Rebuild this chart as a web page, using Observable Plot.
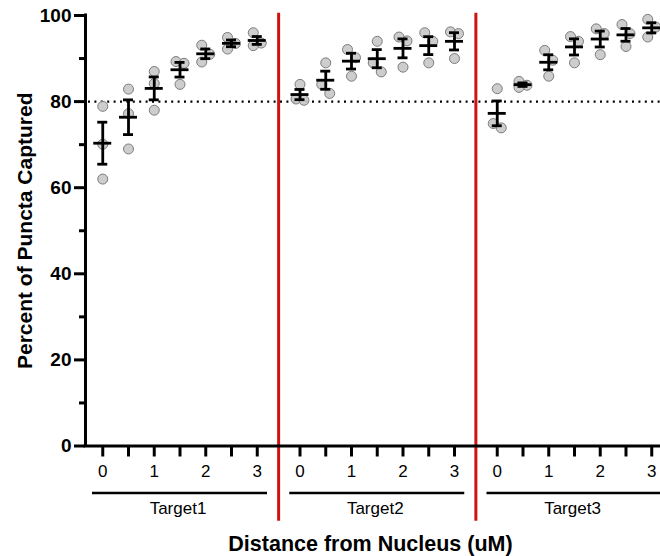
<!DOCTYPE html>
<html>
<head>
<meta charset="utf-8">
<script src="https://cdn.jsdelivr.net/npm/d3@7"></script>
<script src="https://cdn.jsdelivr.net/npm/@observablehq/plot@0.6"></script>
<style>
  html, body { margin: 0; padding: 0; background: #fff; }
  #chart svg { display: block; }
</style>
</head>
<body>
<div id="chart"></div>
<script>
// Percent of puncta captured, three replicates per distance bin
const targets = ["Target1", "Target2", "Target3"];
const distances = [0, 0.5, 1, 1.5, 2, 2.5, 3];
const target1 = [[78.9, 70.1, 62.0], [82.9, 77.2, 69.0], [87.0, 84.2, 78.0], [89.3, 88.9, 84.0], [93.1, 91.0, 89.2], [94.9, 93.5, 92.2], [96.0, 93.6, 93.0]];
const target2 = [[84.0, 80.6, 80.3], [89.0, 84.0, 81.9], [92.1, 90.2, 85.9], [94.0, 89.0, 86.9], [95.0, 94.1, 88.0], [96.0, 94.0, 89.0], [96.2, 95.8, 90.0]];
const target3 = [[83.0, 74.9, 73.9], [84.7, 83.8, 83.3], [91.9, 89.6, 85.9], [95.1, 94.0, 89.0], [96.9, 95.8, 90.9], [97.9, 95.8, 92.8], [99.1, 97.3, 95.0]];
const threshold = 80;
const yMajor = [0, 20, 40, 60, 80, 100];
const yMinor = [10, 30, 50, 70, 90];

const replicates = [target1, target2, target3];

// Horizontal layout: one unit per 0.5 µm step, targets separated by a gap
const groupStep = 7.66;
const xDomain = [-0.67, 2 * groupStep + 6.34];
const W = 660, H = 556, mL = 85, mR = 0, mT = 15, mB = 110.5;
const pxPerUnit = (W - mL - mR) / (xDomain[1] - xDomain[0]);
const px = (p) => p / pxPerUnit;
const xOf = (g, d) => g * groupStep + d * 2;

// Points, with a small side shift where replicates would overlap
const points = [];
const stats = [];
replicates.forEach((rows, g) => {
  rows.forEach((vals, i) => {
    const x = xOf(g, distances[i]);
    const sorted = vals.map((v) => ({v})).sort((a, b) => b.v - a.v);
    sorted.forEach((p, k) => {
      p.off = 0;
      if (k > 0 && Math.abs(p.v - sorted[k - 1].v) < 2.6) {
        if (sorted[k - 1].off === 0) { sorted[k - 1].off = -4; p.off = 4; }
        else p.off = -sorted[k - 1].off;
      }
    });
    sorted.forEach((p) => points.push({x: x + px(p.off), y: p.v}));
    const mean = d3.mean(vals);
    const sem = d3.deviation(vals) / Math.sqrt(vals.length);
    stats.push({x, mean, lo: mean - sem, hi: mean + sem});
  });
});

const xTicks = [];
const xLabel = new Map();
targets.forEach((t, g) => distances.forEach((d) => {
  const x = xOf(g, d);
  xTicks.push(x);
  xLabel.set(x, Number.isInteger(d) ? String(d) : "");
}));

const groups = targets.map((name, g) => ({name, center: xOf(g, 1.5)}));
const dividers = [0, 1].map((g) => (xOf(g, 3) + xOf(g + 1, 0)) / 2);

const meanHalf = px(9), capHalf = px(5), lineHalf = px(87.5);

const chart = Plot.plot({
  width: W, height: H,
  marginLeft: mL, marginRight: mR, marginTop: mT, marginBottom: mB,
  x: {domain: xDomain, label: null},
  y: {domain: [0, 100], label: null},
  style: {fontFamily: "'Liberation Sans', Arial, sans-serif", color: "#000", background: "#fff", overflow: "visible"},
  marks: [
    Plot.ruleY([threshold], {x1: xDomain[0] + px(3), x2: xDomain[1], stroke: "#000", strokeWidth: 2.2, strokeDasharray: "2,4.4"}),
    Plot.ruleX(dividers, {y1: -17.5, y2: 100.5, stroke: "#cc1414", strokeWidth: 3}),
    Plot.dot(points, {x: "x", y: "y", r: 5, fill: "#c8c8c8", fillOpacity: 0.9, stroke: "#7c7c7c", strokeWidth: 1}),
    Plot.ruleX(stats, {x: "x", y1: "lo", y2: "hi", stroke: "#000", strokeWidth: 2.8}),
    Plot.ruleY(stats, {x1: (d) => d.x - capHalf, x2: (d) => d.x + capHalf, y: "hi", stroke: "#000", strokeWidth: 2.8}),
    Plot.ruleY(stats, {x1: (d) => d.x - capHalf, x2: (d) => d.x + capHalf, y: "lo", stroke: "#000", strokeWidth: 2.8}),
    Plot.ruleY(stats, {x1: (d) => d.x - meanHalf, x2: (d) => d.x + meanHalf, y: "mean", stroke: "#000", strokeWidth: 2.8}),
    Plot.ruleX([xDomain[0]], {y1: 0, y2: 100, stroke: "#000", strokeWidth: 3, strokeLinecap: "square"}),
    Plot.ruleY([0], {x1: xDomain[0], x2: xDomain[1], stroke: "#000", strokeWidth: 3, strokeLinecap: "square"}),
    Plot.axisY(yMajor, {tickSize: 11, tickPadding: 3, strokeWidth: 3, fontSize: 19, fontWeight: "bold", label: null}),
    Plot.axisY(yMinor, {tickSize: 6, strokeWidth: 3, tickFormat: () => "", label: null}),
    Plot.axisX(xTicks, {tickSize: 11, tickPadding: 8, strokeWidth: 3, fontSize: 17, tickFormat: (d) => xLabel.get(d), label: null}),
    Plot.ruleY(groups, {x1: (d) => d.center - lineHalf, x2: (d) => d.center + lineHalf, y: () => 0, dy: 47, stroke: "#000", strokeWidth: 2.5}),
    Plot.text(groups, {x: "center", text: "name", frameAnchor: "bottom", dy: 68, dx: -2, fontSize: 17}),
    Plot.text(["Distance from Nucleus (uM)"], {frameAnchor: "bottom", dy: 105, dx: -2.5, fontSize: 21.5, fontWeight: "bold"}),
    Plot.text(["Percent of Puncta Captured"], {frameAnchor: "left", textAnchor: "middle", dx: -60, rotate: -90, fontSize: 21, fontWeight: "bold"})
  ]
});
document.getElementById("chart").appendChild(chart);
</script>
</body>
</html>
